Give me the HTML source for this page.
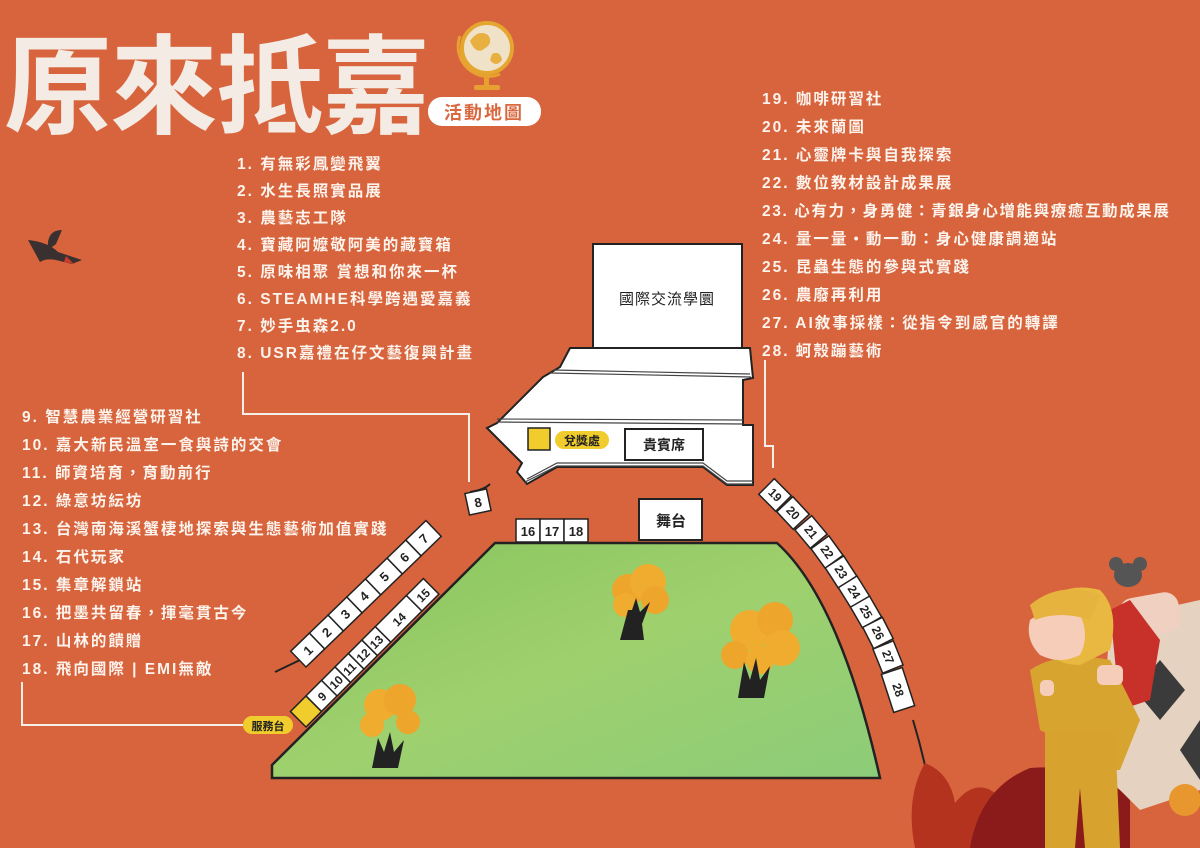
<!DOCTYPE html>
<html><head><meta charset="utf-8">
<style>
html,body{margin:0;padding:0;}
body{width:1200px;height:848px;overflow:hidden;background:#d8643d;position:relative;font-family:"Liberation Sans","Noto Sans CJK TC",sans-serif;}
.t{position:absolute;color:#fbf3ec;font-size:15.5px;letter-spacing:2px;white-space:nowrap;font-family:"Liberation Sans","Noto Sans CJK TC",sans-serif;line-height:20px;font-weight:bold;}
svg text{font-family:"Liberation Sans","Noto Sans CJK TC",sans-serif;}
</style></head><body>
<svg width="1200" height="848" style="position:absolute;left:0;top:0">
<defs>
<linearGradient id="g" x1="0" y1="0" x2="1" y2="1">
<stop offset="0" stop-color="#86c45c"/><stop offset="0.5" stop-color="#9fd06e"/><stop offset="1" stop-color="#8ccc78"/>
</linearGradient>
</defs>
<!-- title -->
<text x="4" y="125" font-size="108" fill="#f3ebe4" font-weight="bold" letter-spacing="-2" font-family="'Noto Sans CJK TC',sans-serif">原來抵嘉</text>
<!-- globe -->
<circle cx="487" cy="48" r="25" fill="#efe2c8" stroke="#e5a630" stroke-width="4"/>
<path d="M470 41 q8-12 18-6 q6 8-4 14 q-8 6-14-8z M492 54 q8-4 10 6 q-6 8-12 0z" fill="#e8b040"/>
<path d="M460 36 a30 30 0 0 0 40 38" stroke="#e8a030" stroke-width="3" fill="none"/>
<rect x="484" y="74" width="5" height="12" fill="#e8a030"/>
<rect x="474" y="85" width="26" height="5" rx="2" fill="#e8a030"/>
<rect x="428" y="97" width="113" height="29" rx="14" fill="#fff"/>
<text x="484" y="119" font-size="18" fill="#d9673f" text-anchor="middle" font-weight="bold" letter-spacing="2">活動地圖</text>
<!-- bird -->
<path d="M28 240 q20 2 30 12 l24 8 l-10 4 l-16-4 q-10-2-16 2z" fill="#3a3030"/>
<path d="M48 250 q-2-20 14-20 l-6 14z" fill="#3a3030"/>
<path d="M66 256 l8 8 l-10-2z" fill="#c83a2a"/>

<!-- connectors -->
<g stroke="#f6eee8" stroke-width="2" fill="none">
<polyline points="243,372 243,414 469,414 469,482"/>
<polyline points="22,682 22,725 243,725"/>
<polyline points="765,360 765,446 773,446 773,468"/>
</g>

<!-- green field -->
<path d="M495,543 L777,543 Q840,600 880,778 L272,778 L272,765 Z" fill="url(#g)" stroke="#222" stroke-width="2.5"/>

<g stroke="#222" stroke-width="2" fill="none">
<line x1="275" y1="672" x2="300" y2="660"/>
<path d="M490 484 q-6 6 -20 8"/>
<path d="M913 720 Q925 760 932 800"/>
</g>

<!-- building -->
<rect x="593" y="244" width="149" height="104" fill="#fff" stroke="#222" stroke-width="2"/>
<text x="667" y="304" font-size="15" text-anchor="middle" fill="#222" letter-spacing="1">國際交流學圜</text>
<polygon points="570,348 750,348 753,378 743,380 743,425 753,425 753,485 727,485 703,467 557,467 527,484 517,472 522,463 487,428 497,423 543,377 560,367" fill="#fff" stroke="#222" stroke-width="2"/>
<g stroke="#444" stroke-width="1.2" fill="none">
<line x1="553" y1="370" x2="750" y2="374"/><line x1="550" y1="373" x2="751" y2="377"/>
<line x1="497" y1="419" x2="743" y2="420"/><line x1="497" y1="422" x2="743" y2="424"/>
<polyline points="527,479 557,463 703,463 727,481 753,481"/>
<polyline points="525,482 557,466 703,466 727,484 753,484"/>
</g>
<rect x="528" y="428" width="22" height="22" fill="#f0cc2c" stroke="#222" stroke-width="1.5"/>
<rect x="555" y="431" width="54" height="18" rx="9" fill="#f0cc2c"/>
<text x="582" y="445" font-size="12" text-anchor="middle" fill="#222" font-weight="bold">兌獎處</text>
<rect x="625" y="429" width="78" height="31" fill="#fff" stroke="#222" stroke-width="2"/>
<text x="664" y="450" font-size="14" text-anchor="middle" fill="#222" font-weight="bold">貴賓席</text>
<rect x="639" y="499" width="63" height="41" fill="#fff" stroke="#222" stroke-width="2"/>
<text x="671" y="526" font-size="15" text-anchor="middle" fill="#222" font-weight="bold">舞台</text>
<g fill="#fff" stroke="#222" stroke-width="1.5">
<rect x="516" y="519" width="24" height="23"/><rect x="540" y="519" width="24" height="23"/><rect x="564" y="519" width="24" height="23"/>
</g>
<g font-size="13" font-weight="bold" text-anchor="middle" fill="#222">
<text x="528" y="536">16</text><text x="552" y="536">17</text><text x="576" y="536">18</text>
</g>

<!-- strip 1-7 -->
<g transform="translate(306,667) rotate(-44)">
<g fill="#fff" stroke="#222" stroke-width="1.5">
<rect x="0" y="-22" width="26" height="22"/><rect x="26" y="-22" width="26" height="22"/><rect x="52" y="-22" width="26" height="22"/><rect x="78" y="-22" width="26" height="22"/><rect x="104" y="-22" width="30" height="22"/><rect x="134" y="-22" width="26" height="22"/><rect x="160" y="-22" width="28" height="22"/>
</g>
<g font-size="13" font-weight="bold" text-anchor="middle" fill="#222">
<text x="13" y="-6">1</text><text x="39" y="-6">2</text><text x="65" y="-6">3</text><text x="91" y="-6">4</text><text x="119" y="-6">5</text><text x="147" y="-6">6</text><text x="174" y="-6">7</text>
</g>
</g>
<g transform="translate(478,502) rotate(-12)">
<rect x="-11" y="-11" width="22" height="22" fill="#fff" stroke="#222" stroke-width="1.5"/>
<text x="0" y="5" font-size="13" font-weight="bold" text-anchor="middle" fill="#222">8</text>
</g>
<!-- strip 9-15 -->
<g transform="translate(306,727) rotate(-45)">
<rect x="0" y="-22" width="22" height="22" fill="#f0cc2c" stroke="#222" stroke-width="1.5"/>
<g fill="#fff" stroke="#222" stroke-width="1.5">
<rect x="22" y="-22" width="22" height="22"/><rect x="44" y="-22" width="19" height="22"/><rect x="63" y="-22" width="19" height="22"/><rect x="82" y="-22" width="19" height="22"/><rect x="101" y="-22" width="19" height="22"/><rect x="120" y="-22" width="44" height="22"/><rect x="164" y="-22" width="24" height="22"/>
</g>
<g font-size="12" font-weight="bold" text-anchor="middle" fill="#222">
<text x="33" y="-6">9</text><text x="53" y="-6">10</text><text x="72" y="-6">11</text><text x="91" y="-6">12</text><text x="110" y="-6">13</text><text x="142" y="-6">14</text><text x="176" y="-6">15</text>
</g>
</g>
<rect x="243" y="716" width="50" height="18" rx="9" fill="#f0cc2c"/>
<text x="268" y="730" font-size="11" font-weight="bold" text-anchor="middle" fill="#222">服務台</text>

<!-- strip 19-28 -->
<g fill="#fff" stroke="#222" stroke-width="1.5" font-size="12" font-weight="bold">
<g transform="translate(775,495) rotate(45)"><rect x="-12" y="-11" width="24" height="22"/><text x="0" y="4" text-anchor="middle" stroke="none" fill="#222">19</text></g>
<g transform="translate(793,513) rotate(47)"><rect x="-12" y="-11" width="24" height="22"/><text x="0" y="4" text-anchor="middle" stroke="none" fill="#222">20</text></g>
<g transform="translate(811,532) rotate(50)"><rect x="-12" y="-11" width="24" height="22"/><text x="0" y="4" text-anchor="middle" stroke="none" fill="#222">21</text></g>
<g transform="translate(827,552) rotate(54)"><rect x="-12" y="-11" width="24" height="22"/><text x="0" y="4" text-anchor="middle" stroke="none" fill="#222">22</text></g>
<g transform="translate(841,572) rotate(57)"><rect x="-12" y="-11" width="24" height="22"/><text x="0" y="4" text-anchor="middle" stroke="none" fill="#222">23</text></g>
<g transform="translate(854,592) rotate(58)"><rect x="-12" y="-11" width="24" height="22"/><text x="0" y="4" text-anchor="middle" stroke="none" fill="#222">24</text></g>
<g transform="translate(866,612) rotate(60)"><rect x="-12" y="-11" width="24" height="22"/><text x="0" y="4" text-anchor="middle" stroke="none" fill="#222">25</text></g>
<g transform="translate(878,633) rotate(63)"><rect x="-12" y="-11" width="24" height="22"/><text x="0" y="4" text-anchor="middle" stroke="none" fill="#222">26</text></g>
<g transform="translate(888,657) rotate(68)"><rect x="-13" y="-11" width="26" height="22"/><text x="0" y="4" text-anchor="middle" stroke="none" fill="#222">27</text></g>
<g transform="translate(898,690) rotate(72)"><rect x="-20" y="-11" width="40" height="22"/><text x="0" y="4" text-anchor="middle" stroke="none" fill="#222">28</text></g>
</g>

<!-- trees -->
<g>
<circle cx="628" cy="590" r="16" fill="#eea52c"/><circle cx="648" cy="582" r="18" fill="#f0ac2e"/><circle cx="655" cy="600" r="14" fill="#eea52c"/><circle cx="625" cy="605" r="12" fill="#f0ac2e"/>
<path d="M620 640 l8-30 l4 0 l4-12 l4 14 l10-10 l-8 22 l2 16z" fill="#222"/>
<circle cx="750" cy="630" r="20" fill="#f0ac2e"/><circle cx="775" cy="620" r="18" fill="#eea52c"/><circle cx="782" cy="648" r="18" fill="#f0ac2e"/><circle cx="735" cy="655" r="14" fill="#eea52c"/><circle cx="760" cy="660" r="14" fill="#f0ac2e"/>
<path d="M738 698 l6-36 l6 18 l6-22 l4 22 l10-14 l-6 32z" fill="#222"/>
<circle cx="380" cy="705" r="16" fill="#f0ac2e"/><circle cx="400" cy="700" r="16" fill="#eea52c"/><circle cx="372" cy="725" r="12" fill="#f0ac2e"/><circle cx="408" cy="722" r="12" fill="#eea52c"/>
<path d="M372 768 l6-30 l6 14 l6-20 l4 20 l10-12 l-6 28z" fill="#222"/>
</g>

<!-- bottom right illustration -->
<path d="M915 848 q-10-50 10-85 q25 10 30 40 q20-25 40-10 q0 30-20 55z" fill="#b3331f"/>
<path d="M970 848 q10-60 60-80 q60 -5 100 30 l0 50z" fill="#8a1b1a"/>
<path d="M1110 620 l90-20 l0 190 l-60 20 l-40-40z" fill="#e6d2c0"/>
<polygon points="1160,660 1185,690 1160,720 1135,690" fill="#3b3b3b"/>
<polygon points="1200,720 1180,750 1200,780" fill="#3b3b3b"/>
<rect x="1120" y="595" width="60" height="40" rx="14" fill="#f0d0c0" transform="rotate(-10 1150 615)"/>
<path d="M1110 610 l20-10 l30 40 l-10 60 l-30 10 z" fill="#c8302a"/>
<ellipse cx="1128" cy="575" rx="14" ry="12" fill="#555"/>
<circle cx="1116" cy="564" r="7" fill="#555"/><circle cx="1140" cy="564" r="7" fill="#555"/>
<path d="M1030 670 q30-20 80-10 l30 60 l-20 50 l-30 0 l-10 -20 l-40 -20 z" fill="#d7a430"/>
<path d="M1040 610 q20-30 60-20 q20 20 10 60 l-30 15 q-30 0-40-25z" fill="#e9b840"/>
<path d="M1030 620 q20-15 50-5 q10 20 0 40 q-20 10-40 0 q-15-15-10-35z" fill="#f6cdb8"/>
<path d="M1030 605 q30-25 70-10 l-10 25 q-30-10-55 0z" fill="#e6b43e"/>
<path d="M1045 730 l70 0 l5 118 l-35 0 l-5-60 l-5 60 l-30 0z" fill="#d8a22e"/>
<rect x="1040" y="680" width="14" height="16" rx="5" fill="#f6cdb8"/><rect x="1097" y="665" width="26" height="20" rx="6" fill="#f6cdb8"/>
<circle cx="1185" cy="800" r="16" fill="#e8962e"/>
</svg>

<div class="t" style="left:237px;top:155px">1. 有無彩鳳變飛翼</div>
<div class="t" style="left:237px;top:182px">2. 水生長照實品展</div>
<div class="t" style="left:237px;top:209px">3. 農藝志工隊</div>
<div class="t" style="left:237px;top:236px">4. 寶藏阿嬤敬阿美的藏寶箱</div>
<div class="t" style="left:237px;top:263px">5. 原味相聚 賞想和你來一杯</div>
<div class="t" style="left:237px;top:290px">6. STEAMHE科學跨遇愛嘉義</div>
<div class="t" style="left:237px;top:317px">7. 妙手虫森2.0</div>
<div class="t" style="left:237px;top:344px">8. USR嘉禮在仔文藝復興計畫</div>

<div class="t" style="left:22px;top:408px">9. 智慧農業經營研習社</div>
<div class="t" style="left:22px;top:436px">10. 嘉大新民溫室一食與詩的交會</div>
<div class="t" style="left:22px;top:464px">11. 師資培育，育動前行</div>
<div class="t" style="left:22px;top:492px">12. 綠意坊紜坊</div>
<div class="t" style="left:22px;top:520px">13. 台灣南海溪蟹棲地探索與生態藝術加值實踐</div>
<div class="t" style="left:22px;top:548px">14. 石代玩家</div>
<div class="t" style="left:22px;top:576px">15. 集章解鎖站</div>
<div class="t" style="left:22px;top:604px">16. 把墨共留春，揮毫貫古今</div>
<div class="t" style="left:22px;top:632px">17. 山林的饋贈</div>
<div class="t" style="left:22px;top:660px">18. 飛向國際 | EMI無敵</div>

<div class="t" style="left:762px;top:90px">19. 咖啡研習社</div>
<div class="t" style="left:762px;top:118px">20. 未來蘭圖</div>
<div class="t" style="left:762px;top:146px">21. 心靈牌卡與自我探索</div>
<div class="t" style="left:762px;top:174px">22. 數位教材設計成果展</div>
<div class="t" style="left:762px;top:202px;letter-spacing:1.6px">23. 心有力，身勇健：青銀身心增能與療癒互動成果展</div>
<div class="t" style="left:762px;top:230px">24. 量一量‧動一動：身心健康調適站</div>
<div class="t" style="left:762px;top:258px">25. 昆蟲生態的參與式實踐</div>
<div class="t" style="left:762px;top:286px">26. 農廢再利用</div>
<div class="t" style="left:762px;top:314px">27. AI敘事採樣：從指令到感官的轉譯</div>
<div class="t" style="left:762px;top:342px">28. 蚵殼蹦藝術</div>
</body></html>
